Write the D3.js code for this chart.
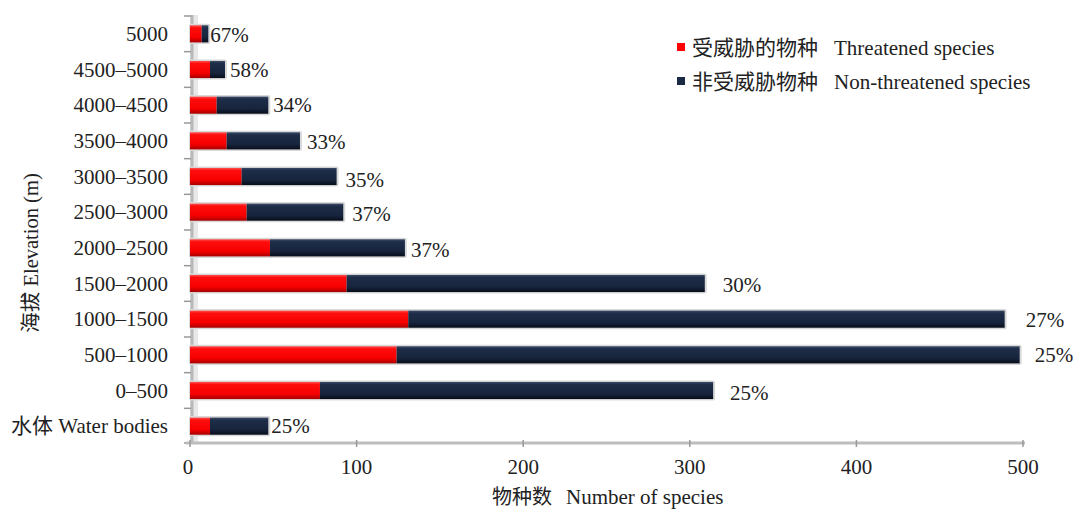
<!DOCTYPE html>
<html><head><meta charset="utf-8">
<script src="https://cdn.jsdelivr.net/npm/d3@7/dist/d3.min.js"></script>
<style>
html,body{margin:0;padding:0;background:#fff;}
svg text{font-family:"Liberation Serif","Times New Roman","Noto Sans CJK SC",serif;fill:#222;}
</style></head>
<body>
<svg id="chart" width="1079" height="513"></svg>
<script>
const categories = ["5000","4500–5000","4000–4500","3500–4000","3000–3500","2500–3000","2000–2500","1500–2000","1000–1500","500–1000","0–500","水体 Water bodies"];
const threatened = [7, 12, 16, 22, 31, 34, 48, 94, 131, 124, 78, 12];
const nonThreatened = [4, 9, 31, 44, 57, 58, 81, 215, 358, 374, 236, 35];
const percentLabels = ["67%","58%","34%","33%","35%","37%","37%","30%","27%","25%","25%","25%"];
const xTicks = [0, 100, 200, 300, 400, 500];
const seriesZh = ["受威胁的物种", "非受威胁物种"];
const seriesEn = ["Threatened species", "Non-threatened species"];

// label layout nudges (px), not data
const labelDx = [2, 5, 5, 7, 9, 9, 6, 18, 21, 15, 17, 3];
const labelDy = [1, 0, 0, 1, 3, 2, 2, 1, 1, 0, 2, 0];

const svg = d3.select("#chart");
const x = d3.scaleLinear().domain([0, 500]).range([190, 1023]);
const y = d3.scaleBand().domain(categories).range([16, 444]).paddingInner(0.52).paddingOuter(0.26);

const defs = svg.append("defs");
function grad(id, stops){
  const g = defs.append("linearGradient").attr("id", id).attr("x1",0).attr("y1",0).attr("x2",0).attr("y2",1);
  stops.forEach(s => g.append("stop").attr("offset", s[0]).attr("stop-color", s[1]));
}
grad("gRed", [[0,"#ff5050"],[0.15,"#ff0d0d"],[0.7,"#f60000"],[1,"#a80000"]]);
grad("gNavy", [[0,"#3a4a66"],[0.15,"#1e2d48"],[0.7,"#17243c"],[1,"#070d1a"]]);

// y axis (3D-ish wall)
const yTop = 15, yBot = 443;
svg.append("rect").attr("x", 190).attr("y", yTop).attr("width", 8).attr("height", yBot - yTop).attr("fill", "#e8e8e8");
svg.append("line").attr("x1", 192).attr("x2", 192).attr("y1", yTop).attr("y2", yBot).attr("stroke", "#b8b8b8").attr("stroke-width", 3);
const bounds = categories.map(c => y(c) - y.step()*y.paddingInner()/2).concat([yBot]);
svg.selectAll(".ytick").data(bounds).enter().append("line")
  .attr("x1", 184).attr("x2", 191).attr("y1", d => d).attr("y2", d => d)
  .attr("stroke", "#999").attr("stroke-width", 1.5);

// x axis
svg.append("line").attr("x1", 186).attr("x2", x(500)+2).attr("y1", yBot).attr("y2", yBot).attr("stroke", "#bdbdbd").attr("stroke-width", 3);
svg.selectAll(".xtick").data(xTicks).enter().append("line")
  .attr("x1", d => x(d)).attr("x2", d => x(d)).attr("y1", yBot - 3).attr("y2", yBot + 4)
  .attr("stroke", "#999").attr("stroke-width", 1.5);
svg.selectAll(".xlab").data(xTicks).enter().append("text")
  .attr("x", d => x(d) - (d === 0 ? 2 : 0)).attr("y", 474).attr("text-anchor", "middle")
  .attr("font-size", 21).text(d => d);

// bars
const bh = y.bandwidth();
const rows = categories.map((c, i) => ({c, t: threatened[i], n: nonThreatened[i], i}));
svg.selectAll(".shadow").data(rows).enter().append("rect")
  .attr("x", x(0) - 1).attr("y", d => y(d.c) - 1.5)
  .attr("width", d => x(d.t + d.n) - x(0) + 3).attr("height", bh + 3)
  .attr("fill", "#d9d9d9").attr("rx", 2);
svg.selectAll(".red").data(rows).enter().append("rect")
  .attr("x", x(0)).attr("y", d => y(d.c)).attr("width", d => x(d.t) - x(0)).attr("height", bh)
  .attr("fill", "url(#gRed)");
svg.selectAll(".navy").data(rows).enter().append("rect")
  .attr("x", d => x(d.t)).attr("y", d => y(d.c)).attr("width", d => x(d.t + d.n) - x(d.t)).attr("height", bh)
  .attr("fill", "url(#gNavy)");

// percent labels
svg.selectAll(".pct").data(rows).enter().append("text")
  .attr("x", d => x(d.t + d.n) + labelDx[d.i])
  .attr("y", d => y(d.c) + bh/2 + 7 + labelDy[d.i])
  .attr("font-size", 21).text(d => percentLabels[d.i]);

// category labels
svg.selectAll(".cat").data(categories).enter().append("text")
  .attr("x", 168).attr("y", d => y(d) + bh/2 + 7).attr("text-anchor", "end")
  .attr("font-size", 21).text(d => d);

// axis titles
const xt = svg.append("text").attr("x", 492).attr("y", 504).attr("font-size", 20);
xt.append("tspan").text("物种数");
xt.append("tspan").attr("dx", 14).attr("font-size", 21).text("Number of species");
svg.append("text").attr("transform", "translate(38,253) rotate(-90)").attr("text-anchor", "middle").attr("font-size", 20.5)
  .text("海拔 Elevation (m)");

// legend
const legColors = ["#ff0000", "#1b2a44"];
const leg = svg.selectAll(".leg").data(seriesZh).enter().append("g")
  .attr("transform", (d, i) => `translate(677,${43 + i*34})`);
leg.append("rect").attr("width", 8).attr("height", 8).attr("fill", (d, i) => legColors[i]);
const lt = leg.append("text").attr("x", 15).attr("y", 12).attr("font-size", 21);
lt.append("tspan").text(d => d);
lt.append("tspan").attr("dx", 16).text((d, i) => seriesEn[i]);
</script>
</body></html>
